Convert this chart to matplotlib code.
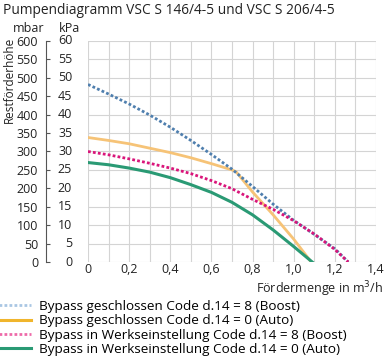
import numpy as np
import matplotlib.pyplot as plt
from matplotlib.lines import Line2D
from matplotlib.transforms import blended_transform_factory

plt.rcParams['font.family'] = ['Open Sans', 'DejaVu Sans']

# data (flow in m3/h, head in mbar)
boost_closed_x = [0, 0.1, 0.2, 0.3, 0.4, 0.5, 0.6, 0.7, 0.8, 0.9, 1.0, 1.1, 1.2, 1.265]
boost_closed_y = [482, 456, 429, 399, 366, 330, 292, 252, 205, 157, 113, 75, 36, 0]

auto_closed_x = [0, 0.1, 0.2, 0.3, 0.4, 0.5, 0.6, 0.7, 0.72, 0.8, 0.9, 1.0, 1.085]
auto_closed_y = [338, 330, 321, 309, 297, 283, 267, 250, 245, 190, 128, 62, 0]

boost_default_x = [0, 0.1, 0.2, 0.3, 0.4, 0.5, 0.6, 0.7, 0.8, 0.9, 1.0, 1.1, 1.2, 1.265]
boost_default_y = [300, 291, 280, 268, 255, 240, 221, 199, 170, 143, 112, 76, 34, 0]

auto_default_x = [0, 0.1, 0.2, 0.3, 0.4, 0.5, 0.6, 0.7, 0.8, 0.9, 1.0, 1.09]
auto_default_y = [270, 264, 255, 244, 229, 210, 189, 162, 128, 87, 42, 0]

x_ticks = [0, 0.2, 0.4, 0.6, 0.8, 1.0, 1.2, 1.4]
x_tick_labels = ['0', '0,2', '0,4', '0,6', '0,8', '1,0', '1,2', '1,4']
mbar_ticks = list(range(0, 601, 50))

labels = ['Bypass geschlossen Code d.14 = 8 (Boost)',
          'Bypass geschlossen Code d.14 = 0 (Auto)',
          'Bypass in Werkseinstellung Code d.14 = 8 (Boost)',
          'Bypass in Werkseinstellung Code d.14 = 0 (Auto)']

blue = '#4f7fae'
orange = '#f6c377'
pink = '#d9157a'
green = '#2a9a74'
text_col = '#222222'
dots = (0, (1, 0.8))

fig = plt.figure(figsize=(3.84, 3.62), dpi=100)
ax = fig.add_axes([88 / 384, 100 / 362, 288 / 384, 221 / 362])

ax.plot(boost_closed_x, boost_closed_y, color=blue, lw=2.0, ls=dots, zorder=4)
ax.plot(auto_closed_x, auto_closed_y, color=orange, lw=2.0, zorder=3)
ax.plot(boost_default_x, boost_default_y, color=pink, lw=2.0, ls=dots, zorder=5)
ax.plot(auto_default_x, auto_default_y, color=green, lw=2.2, zorder=3)

ax.set_xlim(0, 1.4)
ax.set_ylim(0, 600)
ax.set_xticks(np.arange(0, 1.41, 0.1), minor=True)
ax.set_xticks(x_ticks)
ax.set_xticklabels(x_tick_labels, fontsize=9)
ax.set_yticks(mbar_ticks)
ax.grid(True, which='both', color='#d4d4d4', lw=0.8)
ax.tick_params(axis='x', which='both', length=0, pad=1, colors=text_col)

for s in ['top', 'right', 'bottom']:
    ax.spines[s].set_visible(False)
# mbar axis line sits well left of the plot area (offset in points)
ax.spines['left'].set_position(('outward', 30))
ax.spines['left'].set_color('#555555')
ax.spines['left'].set_linewidth(0.8)
ax.tick_params(axis='y', direction='in', length=3, width=0.8, color='#555555',
               labelsize=9, pad=6, labelcolor=text_col)

# kPa labels to the right of the axis line
tr = blended_transform_factory(ax.transAxes, ax.transData)
for v in mbar_ticks:
    ax.text(-0.055, v, str(v // 10), transform=tr, ha='right', va='center',
            fontsize=9, color=text_col)

fig.text(3 / 384, 1 - 10 / 362, 'Pumpendiagramm VSC S 146/4-5 und VSC S 206/4-5',
         fontsize=9.9, color=text_col, va='center')
fig.text(29 / 384, 1 - 28 / 362, 'mbar', fontsize=9, ha='center', va='center', color=text_col)
fig.text(69 / 384, 1 - 28 / 362, 'kPa', fontsize=9, ha='center', va='center', color=text_col)
fig.text(9 / 384, 1 - 80 / 362, 'Restförderhöhe', fontsize=8.5, rotation=90,
         ha='center', va='center', color=text_col)
fig.text(383 / 384, 1 - 289 / 362, 'Fördermenge in m$^3$/h', fontsize=9,
         ha='right', va='center', color=text_col)

handles = [Line2D([], [], color='#a9c6e3', lw=2.0, ls=dots),
           Line2D([], [], color='#f0b52c', lw=2.2),
           Line2D([], [], color='#ee6aa9', lw=2.0, ls=dots),
           Line2D([], [], color=green, lw=2.2)]
fig.legend(handles, labels, loc='upper left', bbox_to_anchor=(-0.003, 1 - 300 / 362),
           frameon=False, fontsize=9.7, handlelength=2.4, handletextpad=0.55,
           labelspacing=0.1, borderaxespad=0, borderpad=0)

fig.savefig('out.png', dpi=100)
